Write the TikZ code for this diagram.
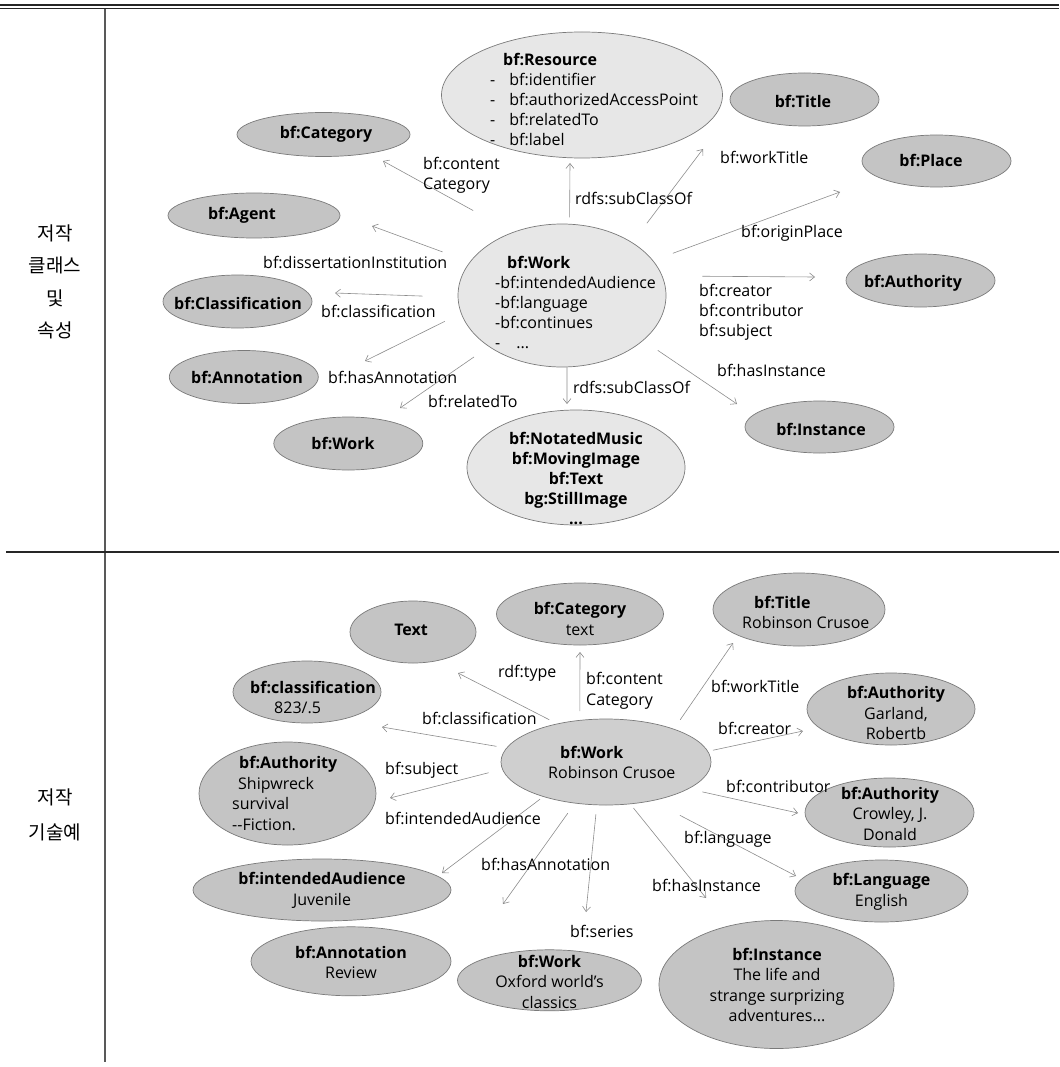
\documentclass[tikz,border=0pt]{standalone}
\usepackage{fontspec}
\setmainfont{Open Sans}
\newfontfamily\kr{Noto Sans CJK KR}
\usetikzlibrary{shapes.geometric,arrows.meta}
\definecolor{darkfill}{HTML}{C4C4C4}
\definecolor{midfill}{HTML}{CFCFCF}
\definecolor{lightfill}{HTML}{E7E7E7}
\definecolor{edgegray}{HTML}{7A7A7A}
\definecolor{arrgray}{HTML}{8C8C8C}
\begin{document}
\begin{tikzpicture}[x=1pt,y=-1pt,
  ell/.style={ellipse, draw=edgegray, line width=0.7pt, inner sep=0pt},
  dk/.style={ell, fill=darkfill},
  md/.style={ell, fill=midfill},
  lt/.style={ell, fill=lightfill},
  txt/.style={inner sep=0pt, font=\fontsize{16}{20}\selectfont, align=center},
  btxt/.style={inner sep=0pt, font=\fontsize{16}{20.5}\selectfont, align=center},
  lbl/.style={inner sep=0pt, anchor=west, font=\fontsize{16}{20}\selectfont, align=left},
  kor/.style={inner sep=0pt, align=center},
  arr/.style={draw=arrgray, line width=0.6pt, -{Straight Barb[length=5pt,width=8pt]}},
]
\useasboundingbox (0,0) rectangle (1059,1067);

% ---------- table frame ----------
\draw[line width=1.5pt, black!85] (0,5) -- (1059,5);
\draw[line width=0.8pt, black!85] (0,8.5) -- (1059,8.5);
\draw[line width=1.2pt, black!65] (105,9) -- (105,1062);
\draw[line width=1.6pt, black!85] (6,552) -- (1059,552);

\node[kor, font=\fontsize{19}{32.5}\selectfont\kr] (k1) at (55,282) {저작\\클래스\\및\\속성};
\node[kor, font=\fontsize{19}{35}\selectfont\kr] (k2) at (55,814.5) {저작\\기술예};

% ---------- upper part: classes and properties ----------
\node[lt, minimum width=281pt, minimum height=126pt] (res) at (582,95) {};
\node[txt, align=left, anchor=west] (res-t) at (490,99.6) {\hspace*{13pt}\textbf{bf:Resource}\\-\hspace*{14pt}bf:identifier\\-\hspace*{14pt}bf:authorizedAccessPoint\\-\hspace*{14pt}bf:relatedTo\\-\hspace*{14pt}bf:label};

\node[dk, minimum width=173pt, minimum height=44pt] (cat) at (323.5,134.5) {};
\node[txt] (cat-t) at (326,134) {\textbf{bf:Category}};
\node[dk, minimum width=172pt, minimum height=45pt] (agent) at (254,215.5) {};
\node[txt] (agent-t) at (242,215) {\textbf{bf:Agent}};
\node[dk, minimum width=149pt, minimum height=53pt] (cls) at (237.5,301.5) {};
\node[txt] (cls-t) at (238,303) {\textbf{bf:Classification}};
\node[dk, minimum width=149pt, minimum height=53pt] (annot) at (243.8,377) {};
\node[txt] (annot-t) at (247,377) {\textbf{bf:Annotation}};
\node[dk, minimum width=149pt, minimum height=53pt] (relw) at (348.3,443.5) {};
\node[txt] (relw-t) at (343,443) {\textbf{bf:Work}};
\node[dk, minimum width=149pt, minimum height=53pt] (title) at (804.5,99.5) {};
\node[txt] (title-t) at (803,101) {\textbf{bf:Title}};
\node[dk, minimum width=149pt, minimum height=52pt] (place) at (936.5,161) {};
\node[txt] (place-t) at (931,160) {\textbf{bf:Place}};
\node[dk, minimum width=149pt, minimum height=53pt] (auth) at (920.5,280.5) {};
\node[txt] (auth-t) at (913,283) {\textbf{bf:Authority}};
\node[dk, minimum width=149pt, minimum height=52pt] (inst) at (819.5,427) {};
\node[txt] (inst-t) at (821,429) {\textbf{bf:Instance}};

\node[lt, minimum width=208pt, minimum height=143pt] (work) at (562,295.5) {};
\node[txt, align=left, anchor=west] (work-t) at (495,302) {\hspace*{12pt}\textbf{bf:Work}\\-bf:intendedAudience\\-bf:language\\-bf:continues\\-\hspace*{16pt}...};

\node[lt, minimum width=218pt, minimum height=115pt] (nm) at (576,467.5) {};
\node[txt, font=\fontsize{16}{20}\selectfont\bfseries] (nm-t) at (576,478) {bf:NotatedMusic\\bf:MovingImage\\bf:Text\\bg:StillImage\\...};

\coordinate (e-cat) at (383,161);
\coordinate (e-agent) at (372,226);
\coordinate (e-res) at (570,163);
\coordinate (e-title) at (703,149);
\coordinate (e-place) at (840,192);
\coordinate (e-auth) at (815,277);
\coordinate (e-inst) at (737,404);
\coordinate (e-sub) at (567,404);
\coordinate (e-cls) at (335,293);
\coordinate (e-annot) at (365,361);
\coordinate (e-rel) at (400,408);

\draw[arr, shorten <=45pt] (work.128) -- (e-cat);
\draw[arr, shorten <=29pt] (work.160) -- (e-agent);
\draw[arr, shorten <=6.5pt] (work.84) -- (e-res);
\draw[arr, shorten <=24pt] (work.37) -- (e-title);
\draw[arr, shorten <=21pt] (work.21) -- (e-place);
\draw[arr, shorten <=40pt] (work.11) -- (e-auth);
\draw[arr, shorten <=17.5pt] (work.331) -- (e-inst);
\draw[arr] (work.274) -- (e-sub);
\draw[arr, shorten <=35pt] (work.181) -- (e-cls);
\draw[arr, shorten <=18pt] (work.190) -- (e-annot);
\draw[arr, shorten <=18pt] (work.215) -- (e-rel);

\node[lbl] (l-cc) at (423,175) {bf:content\\Category};
\node[lbl] (l-diss) at (263,262) {bf:dissertationInstitution};
\node[lbl] (l-sub1) at (575,198) {rdfs:subClassOf};
\node[lbl] (l-wt) at (720,157) {bf:workTitle};
\node[lbl] (l-op) at (741,233) {bf:originPlace};
\node[lbl] (l-ccs) at (699,312.7) {bf:creator\\bf:contributor\\bf:subject};
\node[lbl] (l-hi) at (717,370) {bf:hasInstance};
\node[lbl] (l-sub2) at (573,387) {rdfs:subClassOf};
\node[lbl] (l-cls) at (321,311) {bf:classification};
\node[lbl] (l-ha) at (328,377) {bf:hasAnnotation};
\node[lbl] (l-rt) at (428,401) {bf:relatedTo};

% ---------- lower part: description example ----------
\node[dk, minimum width=126pt, minimum height=62pt] (text) at (413,632) {};
\node[btxt] (text-t) at (411,630) {\textbf{Text}};
\node[dk, minimum width=167pt, minimum height=62pt] (bcat) at (580,614) {};
\node[btxt] (bcat-t) at (580,619) {\textbf{bf:Category}\\text};
\node[dk, minimum width=172pt, minimum height=73pt] (btitle) at (799,609.5) {};
\node[btxt, align=left, anchor=west] (btitle-t) at (742,612.5) {\hspace*{12pt}\textbf{bf:Title}\\Robinson Crusoe};
\node[dk, minimum width=148pt, minimum height=62pt] (bcls) at (307,692) {};
\node[btxt, align=left, anchor=west] (bcls-t) at (250,697.5) {\textbf{bf:classification}\\\hspace*{24pt}823/.5};
\node[dk, minimum width=177pt, minimum height=103pt] (ship) at (287.5,793.5) {};
\node[btxt, align=left, anchor=west] (ship-t) at (232,793.5) {\hspace*{7pt}\textbf{bf:Authority}\\\hspace*{6pt}Shipwreck\\survival\\-{}-Fiction.};
\node[dk, minimum width=168pt, minimum height=72pt] (garl) at (891,709) {};
\node[btxt] (garl-t) at (896,713) {\textbf{bf:Authority}\\Garland,\\Robertb};
\node[dk, minimum width=169pt, minimum height=69pt] (crow) at (889.5,812.5) {};
\node[btxt] (crow-t) at (890,813.5) {\textbf{bf:Authority}\\Crowley, J.\\Donald};
\node[dk, minimum width=173pt, minimum height=62pt] (lang) at (881.5,891) {};
\node[btxt] (lang-t) at (881.5,892) {\textbf{bf:Language}\\English};
\node[dk, minimum width=235pt, minimum height=128pt] (binst) at (776.5,984.5) {};
\node[btxt] (binst-t) at (777,985) {\textbf{bf:Instance}\\The life and\\strange surprizing\\adventures...};
\node[dk, minimum width=184pt, minimum height=61pt] (oxw) at (549.5,980.3) {};
\node[btxt] (oxw-t) at (549.5,981.5) {\textbf{bf:Work}\\Oxford world's\\classics};
\node[dk, minimum width=200pt, minimum height=69pt] (rev) at (351,961.3) {};
\node[btxt] (rev-t) at (351,962.5) {\textbf{bf:Annotation}\\Review};
\node[dk, minimum width=258pt, minimum height=62pt] (juv) at (322,890) {};
\node[btxt] (juv-t) at (322,890.5) {\textbf{bf:intendedAudience}\\Juvenile};

\node[md, minimum width=210pt, minimum height=86pt] (bwork) at (606,762) {};
\node[btxt, align=left, anchor=west] (bwork-t) at (548,762.5) {\hspace*{12pt}\textbf{bf:Work}\\Robinson Crusoe};

\coordinate (f-text) at (458,673);
\coordinate (f-cat) at (580,652);
\coordinate (f-title) at (733,643);
\coordinate (f-creat) at (803,731);
\coordinate (f-contr) at (798,813);
\coordinate (f-lang) at (796,876);
\coordinate (f-inst) at (706,898);
\coordinate (f-ser) at (586,912);
\coordinate (f-ann) at (503,904);
\coordinate (f-aud) at (442,873);
\coordinate (f-subj) at (390,798);
\coordinate (f-cls) at (382,727);

\draw[arr, shorten <=8.5pt] (bwork.142) -- (f-text);
\draw[arr, shorten <=9pt] (bwork.122) -- (f-cat);
\draw[arr, shorten <=11pt] (bwork.26) -- (f-title);
\draw[arr, shorten <=5pt] (bwork.6) -- (f-creat);
\draw[arr, shorten <=14pt] (bwork.342) -- (f-contr);
\draw[arr, shorten <=31pt] (bwork.320) -- (f-lang);
\draw[arr, shorten <=5pt] (bwork.300) -- (f-inst);
\draw[arr, shorten <=9pt] (bwork.258) -- (f-ser);
\draw[arr, shorten <=12pt] (bwork.233) -- (f-ann);
\draw[arr, shorten <=4pt] (bwork.209) -- (f-aud);
\draw[arr, shorten <=14pt] (bwork.184) -- (f-subj);
\draw[arr, shorten <=10pt] (bwork.172) -- (f-cls);

\node[lbl] (m-type) at (498,673) {rdf:type};
\node[lbl, font=\fontsize{16}{21}\selectfont] (m-cc) at (586,690.5) {bf:content\\Category};
\node[lbl] (m-wt) at (711,686) {bf:workTitle};
\node[lbl] (m-cr) at (718,728) {bf:creator};
\node[lbl] (m-co) at (726,786) {bf:contributor};
\node[lbl] (m-cls) at (422,718) {bf:classification};
\node[lbl] (m-sub) at (385,770) {bf:subject};
\node[lbl] (m-aud) at (385,818) {bf:intendedAudience};
\node[lbl] (m-ha) at (481,864) {bf:hasAnnotation};
\node[lbl] (m-ser) at (570,931) {bf:series};
\node[lbl] (m-hi) at (652,885) {bf:hasInstance};
\node[lbl] (m-lang) at (684,839) {bf:language};
\end{tikzpicture}
\end{document}
